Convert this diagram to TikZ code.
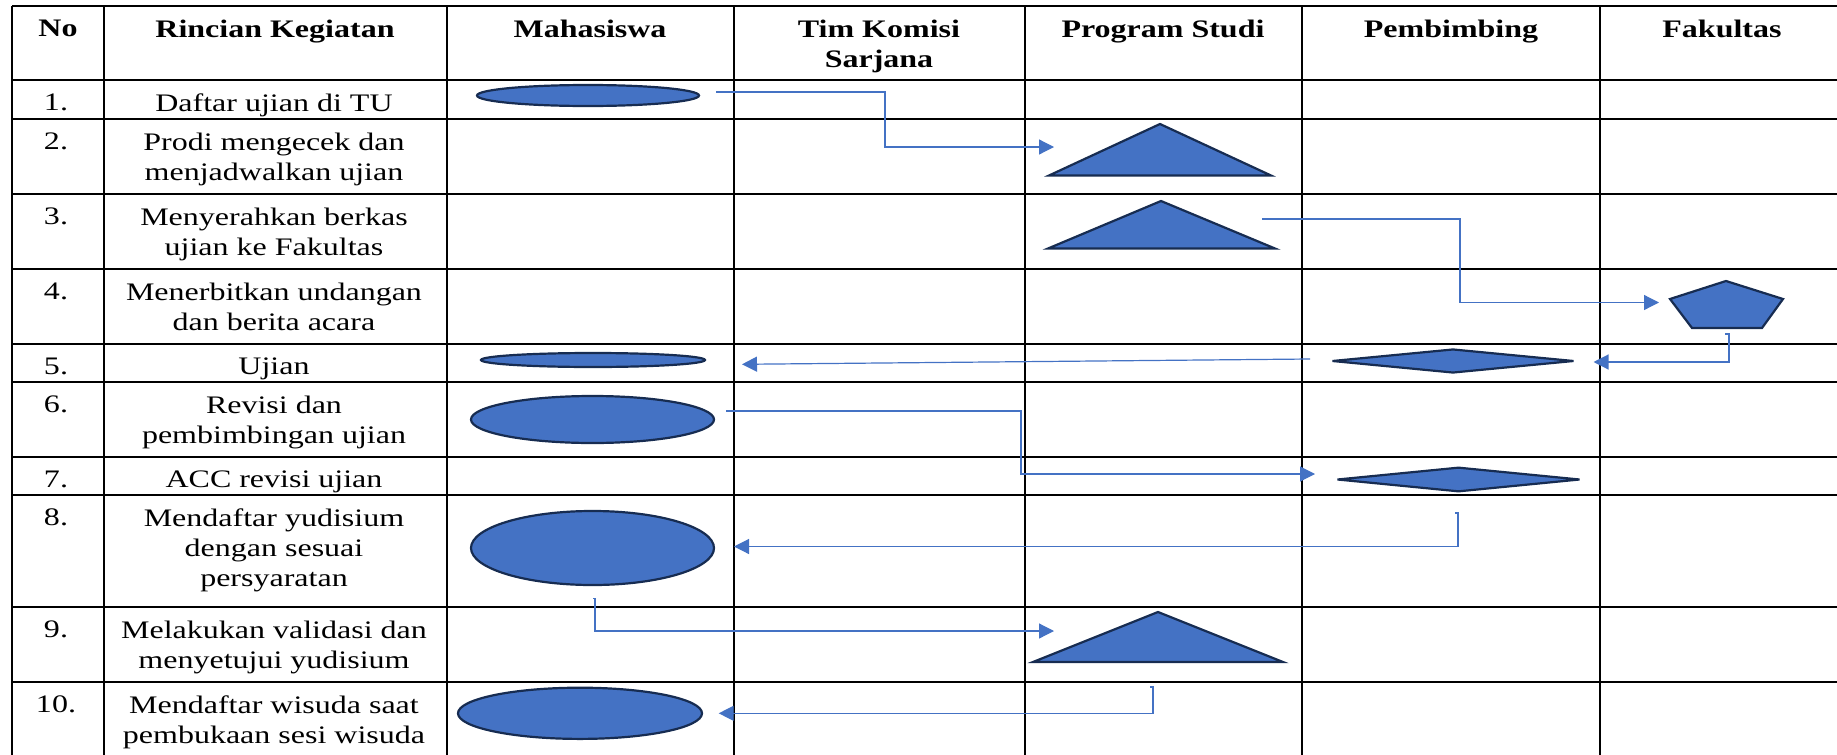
\documentclass[tikz,border=0pt]{standalone}
\usepackage{fontspec}
\setmainfont{Liberation Serif}[FakeStretch=1.27]
\usetikzlibrary{shapes.geometric,arrows.meta}
\definecolor{shapeblue}{HTML}{4472C4}
\definecolor{shapeline}{HTML}{172C51}
\begin{document}
\begin{tikzpicture}[x=0.5pt, y=-0.5pt,
  every node/.style={font=\fontsize{12.6}{15}\selectfont, inner sep=0pt, align=center, anchor=north},
  hd/.style={font=\fontsize{12.6}{15}\selectfont\bfseries},
  grid/.style={line width=1pt},
  shp/.style={fill=shapeblue, draw=shapeline, line width=1.1pt},
  blob/.style={shp, ellipse, anchor=center},
  rhomb/.style={shp, diamond, anchor=center},
  flow/.style={draw=shapeblue, line width=0.6pt, -{Triangle[length=7.5pt,width=7.5pt]}}]
\useasboundingbox (0,0) rectangle (1837,755);
% table
\foreach \y in {6,80,119,194,269,344,382,457,495,607,682}
  \draw[grid] (12,\y) -- (1837,\y);
\foreach \x in {12,104,447,734,1025,1302,1600}
  \draw[grid] (\x,6) -- (\x,755);
% header
\node[hd] (hNo) at (58,19.5) {No};
\node[hd] (hRincian) at (275,19.5) {Rincian Kegiatan};
\node[hd] (hMhs) at (590,19.5) {Mahasiswa};
\node[hd] (hTim) at (879,19.5) {Tim Komisi\\Sarjana};
\node[hd] (hProdi) at (1163,19.5) {Program Studi};
\node[hd] (hPemb) at (1451,19.5) {Pembimbing};
\node[hd] (hFak) at (1722,19.5) {Fakultas};
% rows
\foreach \y/\t [count=\i] in {93.5/{Daftar ujian di TU},
    132.5/{Prodi mengecek dan\\menjadwalkan ujian},
    207.5/{Menyerahkan berkas\\ujian ke Fakultas},
    282.5/{Menerbitkan undangan\\dan berita acara},
    357.5/{Ujian},
    395.5/{Revisi dan\\pembimbingan ujian},
    470.5/{ACC revisi ujian},
    508.5/{Mendaftar yudisium\\dengan sesuai\\persyaratan},
    620.5/{Melakukan validasi dan\\menyetujui yudisium},
    695.5/{Mendaftar wisuda saat\\pembukaan sesi wisuda}} {
  \node (no\i) at (56,\y) {\i.};
  \node (kg\i) at (274,\y) {\t};
}
% shapes
\node[blob, minimum width=111pt, minimum height=10.5pt] (m1) at (588,95.5) {};
\node[blob, minimum width=112pt, minimum height=7pt] (m5) at (593,360) {};
\node[blob, minimum width=121.5pt, minimum height=23.5pt] (m6) at (592.5,419.5) {};
\node[blob, minimum width=121.5pt, minimum height=37pt] (m8) at (592.5,548) {};
\node[blob, minimum width=122pt, minimum height=25.6pt] (m10) at (580,713.3) {};
\draw[shp] (1160,124) -- (1271,175.5) -- (1049,175.5) -- cycle;
\draw[shp] (1161,201) -- (1275,248.5) -- (1048,248.5) -- cycle;
\draw[shp] (1158,612) -- (1283,662) -- (1033,662) -- cycle;
\draw[shp] (1726,281) -- (1783,299) -- (1762,328) -- (1692,328) -- (1670,299) -- cycle;
\node[rhomb, minimum width=121pt, minimum height=12pt] (b5) at (1453,361) {};
\node[rhomb, minimum width=121.5pt, minimum height=12.3pt] (b7) at (1458.5,479.5) {};
% connector ends
\coordinate (m1e) at (716,92);
\coordinate (t2w) at (1054,147);
\coordinate (t3e) at (1262,219);
\coordinate (f4w) at (1659,302.5);
\coordinate (f4s) at (1725,334);
\coordinate (b5e) at (1593.5,362);
\coordinate (b5w) at (1310,359);
\coordinate (m5e) at (742,364.3);
\coordinate (m6e) at (726,411);
\coordinate (b7w) at (1315,474);
\coordinate (b7s) at (1455,513);
\coordinate (m8e) at (734,546.5);
\coordinate (m8s) at (593,598.5);
\coordinate (t9w) at (1054,631);
\coordinate (t9s) at (1150,687);
\coordinate (m10e) at (718.7,713.3);
% flow
\draw[flow] (m1e) -- ++(169,0) |- (t2w);
\draw[flow] (t3e) -- ++(198,0) |- (f4w);
\draw[flow] (f4s) -- ++(4,0) |- (b5e);
\draw[flow] (b5w) -- (m5e);
\draw[flow] (m6e) -- ++(295,0) |- (b7w);
\draw[flow] (b7s) -- ++(3,0) |- (m8e);
\draw[flow] (m8s) -- ++(2,0) |- (t9w);
\draw[flow] (t9s) -- ++(3,0) |- (m10e);
\end{tikzpicture}
\end{document}
